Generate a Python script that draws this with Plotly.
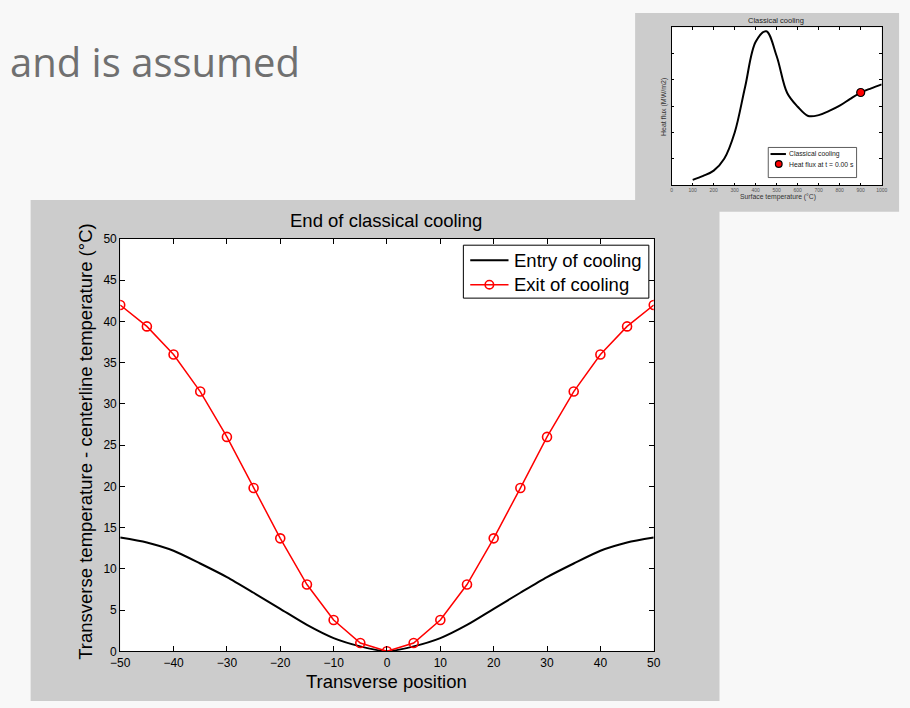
import plotly.graph_objects as go

W, H = 910, 708

# Main plot: temperature profile across the strip
positions = [-50, -45, -40, -35, -30, -25, -20, -15, -10, -5, 0,
             5, 10, 15, 20, 25, 30, 35, 40, 45, 50]
entry_temp = [13.8, 13.2, 12.2, 10.65, 9.0, 7.1, 5.15, 3.2, 1.6, 0.6, 0.0,
              0.6, 1.6, 3.2, 5.15, 7.1, 9.0, 10.65, 12.2, 13.2, 13.8]
exit_temp = [42.0, 39.4, 36.0, 31.5, 26.0, 19.8, 13.7, 8.1, 3.8, 1.0, 0.0,
             1.0, 3.8, 8.1, 13.7, 19.8, 26.0, 31.5, 36.0, 39.4, 42.0]
series_names = ["Entry of cooling", "Exit of cooling"]
x_ticks = [-50, -40, -30, -20, -10, 0, 10, 20, 30, 40, 50]
y_ticks = [0, 5, 10, 15, 20, 25, 30, 35, 40, 45, 50]

# Small plot: boiling curve
surface_temp = [100, 150, 200, 250, 300, 350, 400, 450, 500, 550,
                600, 650, 700, 750, 800, 850, 900, 950, 1000]
heat_flux = [0.2, 0.35, 0.55, 1.0, 2.0, 3.75, 5.45, 5.85, 4.9, 3.5,
             2.98, 2.63, 2.66, 2.82, 3.02, 3.28, 3.52, 3.68, 3.83]
current_temp = [900]
current_flux = [3.52]
inset_names = ["Classical cooling", "Heat flux at t = 0.00 s"]
inset_x_ticks = [0, 100, 200, 300, 400, 500, 600, 700, 800, 900, 1000]
inset_y_ticks = [1, 2, 3, 4, 5]

FONT = "Liberation Sans, Arial, sans-serif"


def px(x):
    return x / W


def py(y):
    return 1 - y / H


def prect(x0, y0, x1, y1, **kw):
    return dict(type="rect", xref="paper", yref="paper",
                x0=px(x0), x1=px(x1), y0=py(y1), y1=py(y0), **kw)


def pline(x0, x1, y, **kw):
    return dict(type="line", xref="paper", yref="paper",
                x0=px(x0), x1=px(x1), y0=py(y), y1=py(y), **kw)


def pcircle(cx, cy, r, **kw):
    return dict(type="circle", xref="paper", yref="paper",
                x0=px(cx - r), x1=px(cx + r), y0=py(cy + r), y1=py(cy - r), **kw)


def label(text, x, y, size, color="black", xanchor="center", angle=0, family=FONT):
    return dict(text=text, x=px(x), y=py(y), xref="paper", yref="paper",
                xanchor=xanchor, yanchor="middle", showarrow=False, textangle=angle,
                font=dict(family=family, size=size, color=color))


fig = go.Figure()

fig.add_trace(go.Scatter(
    x=positions, y=entry_temp, name=series_names[0], mode="lines",
    line=dict(color="black", width=2, shape="spline", smoothing=0.7),
    showlegend=False, xaxis="x", yaxis="y"))
fig.add_trace(go.Scatter(
    x=positions, y=exit_temp, name=series_names[1], mode="lines+markers",
    line=dict(color="#ff0000", width=1.5),
    marker=dict(symbol="circle-open", size=9, color="#ff0000",
                line=dict(width=1.6, color="#ff0000")),
    showlegend=False, xaxis="x", yaxis="y"))

fig.add_trace(go.Scatter(
    x=surface_temp, y=heat_flux, name=inset_names[0], mode="lines",
    line=dict(color="black", width=2, shape="spline"),
    showlegend=False, xaxis="x2", yaxis="y2"))
fig.add_trace(go.Scatter(
    x=current_temp, y=current_flux, name=inset_names[1], mode="markers",
    marker=dict(size=8, color="#ff0000", line=dict(color="black", width=1.2)),
    showlegend=False, xaxis="x2", yaxis="y2"))

shapes = [
    # figure panels and white axes areas
    prect(637, 6, 906, 209, layer="below", fillcolor="#cccccc", line=dict(width=0)),
    prect(21, 197, 723, 708, layer="below", fillcolor="#cccccc", line=dict(width=0)),
    prect(112.3, 236.7, 656, 657.3, layer="below", fillcolor="white", line=dict(width=0)),
    prect(674.3, 20.7, 888.3, 181.7, layer="below", fillcolor="white", line=dict(width=0)),
    # main legend
    prect(462, 243, 651, 297, fillcolor="white", line=dict(color="black", width=1)),
    pline(469, 508, 258.3, line=dict(color="black", width=2)),
    pline(469, 508, 283.3, line=dict(color="#ff0000", width=1.5)),
    pcircle(488.5, 283.3, 4.3, line=dict(color="#ff0000", width=1.6)),
    # small plot legend
    prect(772.7, 143.3, 862.7, 174, fillcolor="white", line=dict(color="#333333", width=0.8)),
    pline(775, 790.7, 150, line=dict(color="black", width=2)),
    pcircle(783.4, 160.2, 3.4, fillcolor="#ff0000", line=dict(color="black", width=1.2)),
]

annotations = [
    label("and is assumed", -2, 56, 40, color="#707070", xanchor="left", family="Open Sans"),
    label("End of classical cooling", 383.5, 218, 18.5),
    label("Transverse position", 383.5, 688, 18.5),
    label("Transverse temperature - centerline temperature (°C)", 77, 444, 18.5, angle=-90),
    label(series_names[0], 512, 258.3, 18.5, xanchor="left"),
    label(series_names[1], 512, 283.3, 18.5, xanchor="left"),
    label("Classical cooling", 781, 14, 7.5, color="#222222"),
    label("Surface temperature (°C)", 782.5, 193.5, 6.8, color="#333333"),
    label("Heat flux (MW/m2)", 666.5, 102, 7, color="#333333", angle=-90),
    label(inset_names[0], 791.5, 150, 6.8, color="#222222", xanchor="left"),
    label(inset_names[1], 791.5, 160.2, 6.8, color="#222222", xanchor="left"),
]

axis_common = dict(showgrid=False, zeroline=False, showline=True, linecolor="black",
                   linewidth=1, mirror="ticks", ticks="inside", tickcolor="black")

fig.update_layout(
    width=W, height=H,
    margin=dict(l=0, r=0, t=0, b=0),
    paper_bgcolor="#f8f8f8", plot_bgcolor="white",
    shapes=shapes, annotations=annotations,
    showlegend=False,
    xaxis=dict(domain=[px(112.3), px(656)], range=[-50, 50], tickvals=x_ticks,
               ticklen=5, tickfont=dict(family=FONT, size=12, color="black"),
               anchor="y", **axis_common),
    yaxis=dict(domain=[py(657.3), py(236.7)], range=[0, 50], tickvals=y_ticks,
               ticklen=5, tickfont=dict(family=FONT, size=12, color="black"),
               anchor="x", **axis_common),
    xaxis2=dict(domain=[px(674.3), px(888.3)], range=[0, 1000], tickvals=inset_x_ticks,
                ticklen=2.5, tickfont=dict(family=FONT, size=5, color="#555555"),
                anchor="y2", **axis_common),
    yaxis2=dict(domain=[py(181.7), py(20.7)], range=[0, 6], tickvals=inset_y_ticks,
                ticklen=2.5, showticklabels=False, anchor="x2", **axis_common),
)

fig.write_html("out.html")
